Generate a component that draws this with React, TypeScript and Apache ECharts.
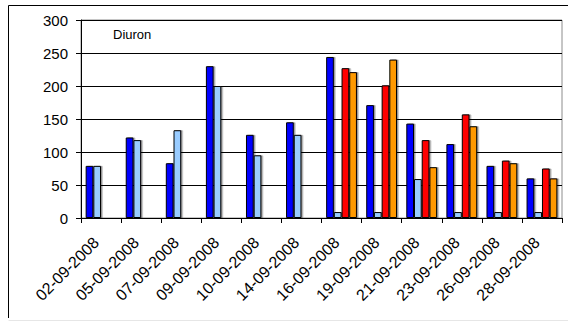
import React, { useEffect, useRef } from "react";
import * as echarts from "echarts";

const categories = [
  "02-09-2008", "05-09-2008", "07-09-2008", "09-09-2008", "10-09-2008", "14-09-2008",
  "16-09-2008", "19-09-2008", "21-09-2008", "23-09-2008", "26-09-2008", "28-09-2008",
];
const seriesBlue = [79, 122, 83, 230, 126, 145, 244, 171, 143, 112, 79, 60];
const seriesLightBlue = [79, 118, 133, 200, 95, 126, 9, 9, 59, 9, 9, 9];
const seriesRed = [null, null, null, null, null, null, 227, 201, 118, 157, 87, 75];
const seriesOrange = [null, null, null, null, null, null, 221, 240, 77, 139, 83, 60];
const yTicks = { min: 0, max: 300, interval: 50 };
const title = "Diuron";

export default function App() {
  const ref = useRef<HTMLDivElement>(null);
  useEffect(() => {
    if (!ref.current) return;
    const chart = echarts.init(ref.current, null, { renderer: "svg" });
    const font = "Liberation Sans, Arial, sans-serif";
    const mk = (name: string, data: (number | null)[], color: string) => ({
      name,
      type: "bar",
      data,
      barWidth: 7.7,
      barGap: "0%",
      barCategoryGap: "23%",
      itemStyle: {
        color,
        borderColor: "#000",
        borderWidth: 1,
        shadowColor: "rgba(0,0,0,0.4)",
        shadowOffsetX: 1.5,
        shadowOffsetY: 0,
        shadowBlur: 0,
      },
    });
    chart.setOption({
      animation: false,
      backgroundColor: "#fff",
      grid: {
        left: 81,
        top: 20,
        right: 6,
        bottom: 104,
        show: true,
        borderColor: "#8c8c8c",
        borderWidth: 1,
        containLabel: false,
      },
      xAxis: {
        type: "category",
        data: categories,
        axisLine: { show: true, lineStyle: { color: "#000", width: 1 } },
        axisTick: { show: true, length: 5, inside: false, lineStyle: { color: "#000" } },
        axisLabel: {
          rotate: 45,
          interval: 0,
          margin: 17,
          padding: [0, 7, 0, 0],
          color: "#000",
          fontFamily: font,
          fontSize: 16,
        },
      },
      yAxis: {
        type: "value",
        min: yTicks.min,
        max: yTicks.max,
        interval: yTicks.interval,
        axisLine: { show: true, lineStyle: { color: "#000", width: 1 } },
        axisTick: { show: true, length: 5, inside: false, lineStyle: { color: "#000" } },
        axisLabel: { margin: 13, color: "#000", fontFamily: font, fontSize: 15 },
        splitLine: { show: true, lineStyle: { color: "#000", width: 1 } },
      },
      graphic: [
        { type: "line", shape: { x1: 8.5, y1: 5.5, x2: 568, y2: 5.5 }, style: { stroke: "#000", lineWidth: 1 } },
        { type: "line", shape: { x1: 8.5, y1: 5.5, x2: 8.5, y2: 318 }, style: { stroke: "#000", lineWidth: 1 } },
        { type: "line", shape: { x1: 8.5, y1: 320.5, x2: 568, y2: 320.5 }, style: { stroke: "#e6e6e6", lineWidth: 1 } },
        {
          type: "text",
          left: 113,
          top: 28,
          style: { text: title, fill: "#000", font: `13px ${font}` },
        },
      ],
      series: [
        mk("s1", seriesBlue, "#0000ff"),
        mk("s2", seriesLightBlue, "#99ccff"),
        mk("s3", seriesRed, "#ff0000"),
        mk("s4", seriesOrange, "#ff9900"),
      ],
    });
    return () => chart.dispose();
  }, []);
  return (
    <div
      ref={ref}
      style={{ position: "fixed", left: 0, top: 0, width: 568, height: 322 }}
    />
  );
}
